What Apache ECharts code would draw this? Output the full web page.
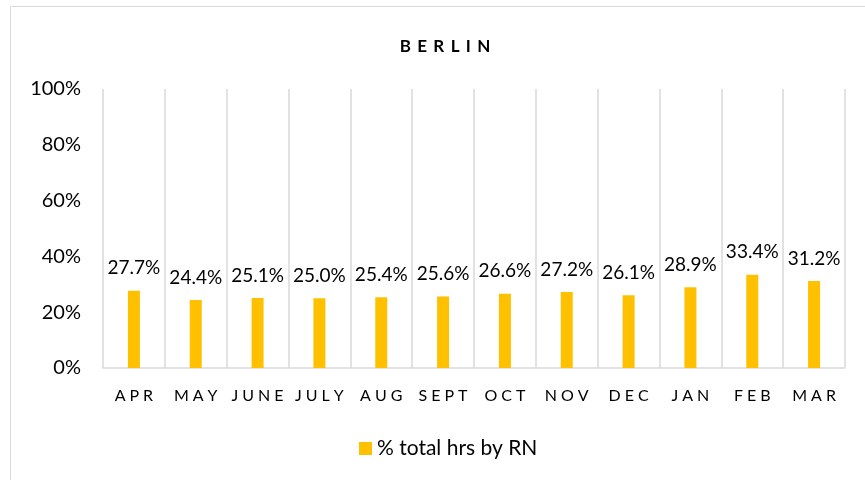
<!DOCTYPE html>
<html><head><meta charset="utf-8">
<script src="https://cdn.jsdelivr.net/npm/echarts@6/dist/echarts.min.js"></script>
<style>html,body{margin:0;padding:0;background:#fff}#c{width:865px;height:480px}</style>
</head><body><div id="c"></div>
<script>
const categories = ['APR','MAY','JUNE','JULY','AUG','SEPT','OCT','NOV','DEC','JAN','FEB','MAR'];
const values = [27.7, 24.4, 25.1, 25.0, 25.4, 25.6, 26.6, 27.2, 26.1, 28.9, 33.4, 31.2];
const yTicks = [0, 20, 40, 60, 80, 100];
const seriesName = '% total hrs by RN';
const titleText = 'BERLIN';

const spaced = (s, n) => s.split('').join('\u2009'.repeat(n));
const chart = echarts.init(document.getElementById('c'));
chart.setOption({
  animation: false,
  textStyle: {fontFamily: 'Lato'},
  graphic: [{type:'rect', shape:{x:10.5, y:6.5, width:900, height:600}, style:{fill:'none', stroke:'#d9d9d9', lineWidth:1}, silent:true}],
  title: {text: spaced(titleText, 3), left: 440, top: 33, textAlign: 'center',
    textStyle: {fontSize: 17, fontWeight: 'bold', color: '#000', fontFamily: 'Lato'}},
  legend: {data: [seriesName], left: 354, top: 433, itemWidth: 13, itemHeight: 13, itemGap: 8,
    icon: 'rect', textStyle: {fontSize: 21, color: '#000', fontFamily: 'Lato'}},
  grid: {left: 103, right: 20, top: 89, bottom: 112},
  xAxis: {type: 'category', data: categories,
    axisLine: {lineStyle: {color: '#d9d9d9', width: 1.5}},
    axisTick: {show: false},
    splitLine: {show: true, interval: 0, lineStyle: {color: '#d9d9d9', width: 1.5}},
    axisLabel: {interval: 0, fontSize: 16, color: '#000', margin: 20, formatter: v => spaced(v, 2)}},
  yAxis: {type: 'value', min: yTicks[0], max: yTicks[yTicks.length-1], interval: 20,
    axisLine: {show: false}, axisTick: {show: false}, splitLine: {show: false},
    axisLabel: {fontSize: 20, color: '#000', margin: 22, formatter: v => v + '%'}},
  series: [{name: seriesName, type: 'bar', data: values, barWidth: 12,
    itemStyle: {color: '#ffc000'},
    label: {show: true, position: 'top', distance: 13, fontSize: 19, color: '#000',
      formatter: p => p.value.toFixed(1) + '%'}}]
});
</script></body></html>
